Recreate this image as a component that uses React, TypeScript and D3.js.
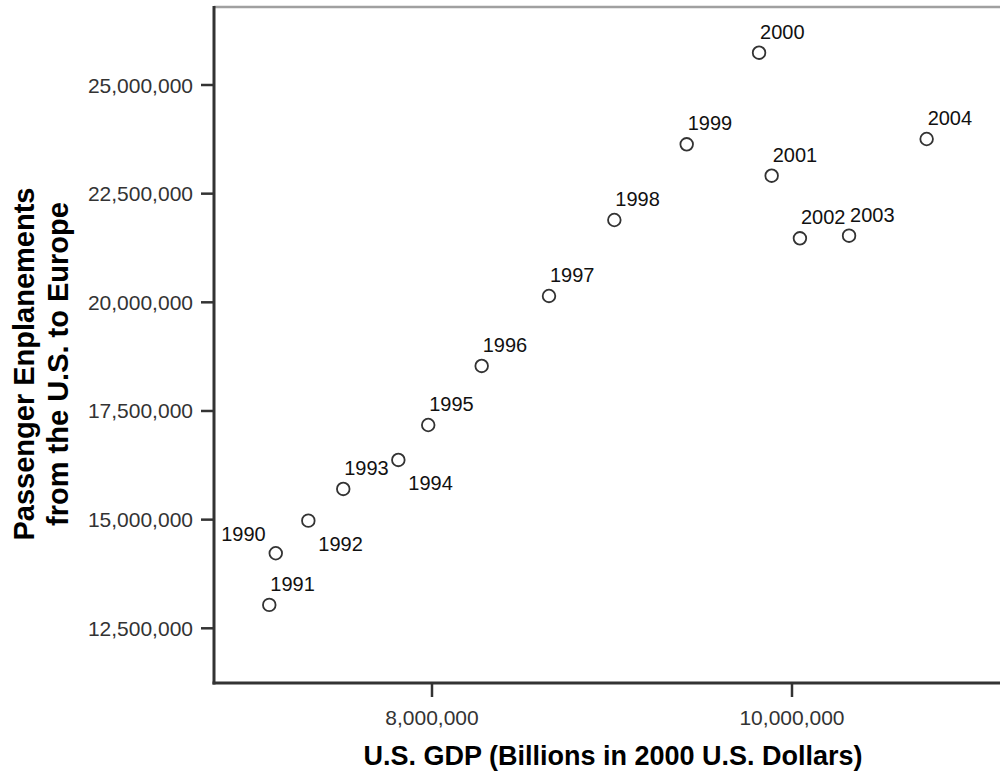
import React from "react";
import * as d3 from "d3";

// U.S. real GDP vs. passenger enplanements to Europe, 1990–2004
const years = [1990, 1991, 1992, 1993, 1994, 1995, 1996, 1997, 1998, 1999, 2000, 2001, 2002, 2003, 2004];
const gdp = [7132000, 7096000, 7313000, 7507000, 7813000, 7979000, 8276000, 8650000, 9013000, 9415000, 9817000, 9887000, 10044000, 10317000, 10748000];
const enplanements = [14227000, 13038000, 14977000, 15706000, 16373000, 17178000, 18536000, 20146000, 21894000, 23636000, 25743000, 22913000, 21473000, 21533000, 23758000];

const xTicks = [8000000, 10000000];
const yTicks = [12500000, 15000000, 17500000, 20000000, 22500000, 25000000];

// label placement per year: "ur" = above right, "br" = below right, "ul" = above left
const labelPlacement: Record<number, string> = {
  1990: "ul",
  1992: "br",
  1994: "br",
};

const W = 1000;
const H = 776;
const plot = { left: 214, right: 1012, top: 7, bottom: 683 };

const FONT = "'Liberation Sans', Arial, sans-serif";

export default function App() {
  const x = d3
    .scaleLinear()
    .domain([8000000, 10000000])
    .range([432, 792]);
  const y = d3
    .scaleLinear()
    .domain([12500000, 25000000])
    .range([628.3, 85]);
  const fmt = d3.format(",");

  return (
    <svg
      width={W}
      height={H}
      style={{ position: "absolute", left: 0, top: 0, background: "#fff" }}
      fontFamily={FONT}
    >
      <rect x={0} y={0} width={W} height={H} fill="#fff" />

      {/* frame: light top/right, dark left/bottom */}
      <line x1={plot.left} x2={plot.right} y1={plot.top} y2={plot.top} stroke="#a0a0a0" strokeWidth={2.5} />
      <line x1={plot.right} x2={plot.right} y1={plot.top} y2={plot.bottom} stroke="#a0a0a0" strokeWidth={2.5} />
      <line x1={plot.left} x2={plot.left} y1={plot.top - 1} y2={plot.bottom + 1.5} stroke="#333" strokeWidth={3} />
      <line x1={plot.left - 1.5} x2={plot.right} y1={plot.bottom} y2={plot.bottom} stroke="#333" strokeWidth={3} />

      {/* y axis ticks */}
      {yTicks.map((t) => (
        <g key={t}>
          <line x1={plot.left - 13} x2={plot.left} y1={y(t)} y2={y(t)} stroke="#333" strokeWidth={2.5} />
          <text x={plot.left - 21} y={y(t) + 7.5} textAnchor="end" fontSize={21} fill="#333">
            {fmt(t)}
          </text>
        </g>
      ))}

      {/* x axis ticks */}
      {xTicks.map((t) => (
        <g key={t}>
          <line x1={x(t)} x2={x(t)} y1={plot.bottom} y2={plot.bottom + 14} stroke="#333" strokeWidth={2.5} />
          <text x={x(t)} y={725} textAnchor="middle" fontSize={21} fill="#333">
            {fmt(t)}
          </text>
        </g>
      ))}

      {/* points with year labels */}
      {years.map((yr, i) => {
        const cx = x(gdp[i]);
        const cy = y(enplanements[i]);
        const p = labelPlacement[yr] || "ur";
        let lx = cx + 1;
        let ly = cy - 14;
        let anchor: "start" | "end" = "start";
        if (p === "br") {
          lx = cx + 10;
          ly = cy + 30;
        } else if (p === "ul") {
          lx = cx - 10;
          ly = cy - 12;
          anchor = "end";
        }
        return (
          <g key={yr}>
            <circle cx={cx} cy={cy} r={6.3} fill="none" stroke="#333" strokeWidth={1.8} />
            <text x={lx} y={ly} textAnchor={anchor} fontSize={20} fill="#111">
              {yr}
            </text>
          </g>
        );
      })}

      {/* axis titles */}
      <text x={613} y={765} textAnchor="middle" fontSize={27} fontWeight="bold" fill="#000">
        U.S. GDP (Billions in 2000 U.S. Dollars)
      </text>
      <g transform="translate(0,364) rotate(-90)">
        <text x={0} y={34} textAnchor="middle" fontSize={29} fontWeight="bold" fill="#000">
          Passenger Enplanements
        </text>
        <text x={0} y={68} textAnchor="middle" fontSize={29} fontWeight="bold" fill="#000">
          from the U.S. to Europe
        </text>
      </g>
    </svg>
  );
}
